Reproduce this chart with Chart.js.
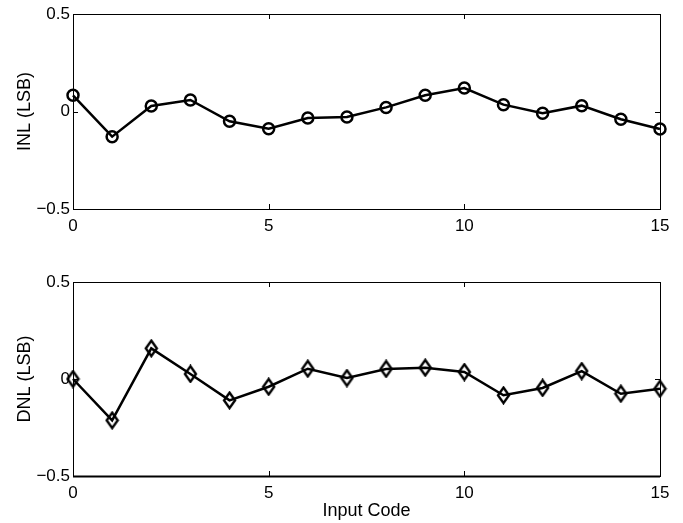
<!DOCTYPE html>
<html>
<head>
<meta charset="utf-8">
<script src="https://cdn.jsdelivr.net/npm/chart.js@4"></script>
<style>
  html, body { margin: 0; padding: 0; background: #fff; }
  #wrap { position: relative; width: 683px; height: 523px; }
  canvas { position: absolute; left: 0; }
</style>
</head>
<body>
<div id="wrap">
  <canvas id="inl" width="683" height="250" style="top:0px"></canvas>
  <canvas id="dnl" width="683" height="273" style="top:250px"></canvas>
</div>
<script>
const inputCodes = [0, 1, 2, 3, 4, 5, 6, 7, 8, 9, 10, 11, 12, 13, 14, 15];
const inlValues = [0.083, -0.129, 0.028, 0.059, -0.050, -0.088, -0.033, -0.028, 0.021, 0.083, 0.120, 0.035, -0.009, 0.030, -0.040, -0.090];
const dnlValues = [0.000, -0.213, 0.158, 0.026, -0.110, -0.040, 0.053, 0.005, 0.052, 0.058, 0.036, -0.084, -0.046, 0.041, -0.076, -0.050];
const xTicks = [0, 5, 10, 15];
const yTicks = [-0.5, 0, 0.5];

const FONT = "'Liberation Sans', Arial, Helvetica, sans-serif";

function fmt(v) {
  return v < 0 ? '\u2212' + Math.abs(v) : String(v);
}

// unfilled diamond marker (slightly taller than wide, MATLAB-like)
function makeDiamond() {
  const c = document.createElement('canvas');
  const w = 15, h = 19;
  c.width = w; c.height = h;
  const g = c.getContext('2d');
  g.strokeStyle = '#000';
  g.lineWidth = 2.4;
  g.lineJoin = 'miter';
  g.beginPath();
  g.moveTo(w / 2, 1.8);
  g.lineTo(w - 2, h / 2);
  g.lineTo(w / 2, h - 1.8);
  g.lineTo(2, h / 2);
  g.closePath();
  g.stroke();
  return c;
}

const boxPlugin = {
  id: 'boxTicks',
  afterDraw(chart, args, opts) {
    const {ctx, chartArea: a, scales} = chart;
    ctx.save();
    ctx.strokeStyle = '#000';
    ctx.lineWidth = 1;
    const L = 5;
    ctx.beginPath();
    xTicks.forEach(v => {
      const px = Math.round(scales.x.getPixelForValue(v)) + 0.5;
      ctx.moveTo(px, a.bottom); ctx.lineTo(px, a.bottom - L);
      ctx.moveTo(px, a.top); ctx.lineTo(px, a.top + L);
    });
    yTicks.forEach(v => {
      const py = Math.round(scales.y.getPixelForValue(v)) + 0.5;
      ctx.moveTo(a.left, py); ctx.lineTo(a.left + L, py);
      ctx.moveTo(a.right, py); ctx.lineTo(a.right - L, py);
    });
    ctx.stroke();
    ctx.strokeRect(Math.round(a.left) + 0.5, Math.round(a.top) + 0.5,
                   Math.round(a.right - a.left), Math.round(a.bottom - a.top));
    if (opts && opts.thickBottom) {
      ctx.lineWidth = 2;
      ctx.beginPath();
      ctx.moveTo(a.left, Math.round(a.bottom) + 0.5);
      ctx.lineTo(a.right, Math.round(a.bottom) + 0.5);
      ctx.stroke();
    }
    ctx.restore();
  }
};

function makeChart(id, values, yTitle, pointStyle, pointRadius, padTop, xAxisHeight, xTitle, thickBottom) {
  return new Chart(document.getElementById(id), {
    type: 'line',
    data: {
      datasets: [{
        data: inputCodes.map((c, i) => ({x: c, y: values[i]})),
        borderColor: '#000',
        borderWidth: 2.5,
        pointStyle: pointStyle,
        pointRadius: pointRadius,
        pointBorderWidth: 2.5,
        pointBorderColor: '#000',
        pointBackgroundColor: 'rgba(0,0,0,0)',
        tension: 0,
        clip: false
      }]
    },
    options: {
      responsive: false,
      animation: false,
      events: [],
      layout: { padding: { left: 0, top: padTop, right: 23, bottom: 0 } },
      plugins: {
        legend: { display: false },
        tooltip: { enabled: false },
        boxTicks: { thickBottom: thickBottom }
      },
      scales: {
        x: {
          type: 'linear',
          min: 0, max: 15,
          afterBuildTicks: s => { s.ticks = xTicks.map(v => ({value: v})); },
          afterFit: s => { s.height = xAxisHeight; },
          grid: { display: false, drawTicks: false },
          border: { display: false },
          ticks: {
            color: '#000',
            font: { family: FONT, size: 17 },
            padding: 7,
            maxRotation: 0,
            callback: v => fmt(v)
          },
          title: xTitle ? {
            display: true, text: xTitle, color: '#000',
            font: { family: FONT, size: 18 },
            padding: { top: 0, bottom: 1 }
          } : { display: false }
        },
        y: {
          type: 'linear',
          min: -0.5, max: 0.5,
          afterBuildTicks: s => { s.ticks = yTicks.map(v => ({value: v})); },
          afterFit: s => { s.width = 73; },
          grid: { display: false, drawTicks: false },
          border: { display: false },
          ticks: {
            color: '#000',
            font: { family: FONT, size: 17 },
            padding: 3,
            callback: v => fmt(v)
          },
          title: {
            display: true, text: yTitle, color: '#000',
            font: { family: FONT, size: 18 },
            padding: { top: 14, bottom: 0 }
          }
        }
      }
    },
    plugins: [boxPlugin]
  });
}

makeChart('inl', inlValues, 'INL (LSB)', 'circle', 5.5, 14, 41, null, false);
makeChart('dnl', dnlValues, 'DNL (LSB)', makeDiamond(), 7, 32, 47, 'Input Code', true);
</script>
</body>
</html>
